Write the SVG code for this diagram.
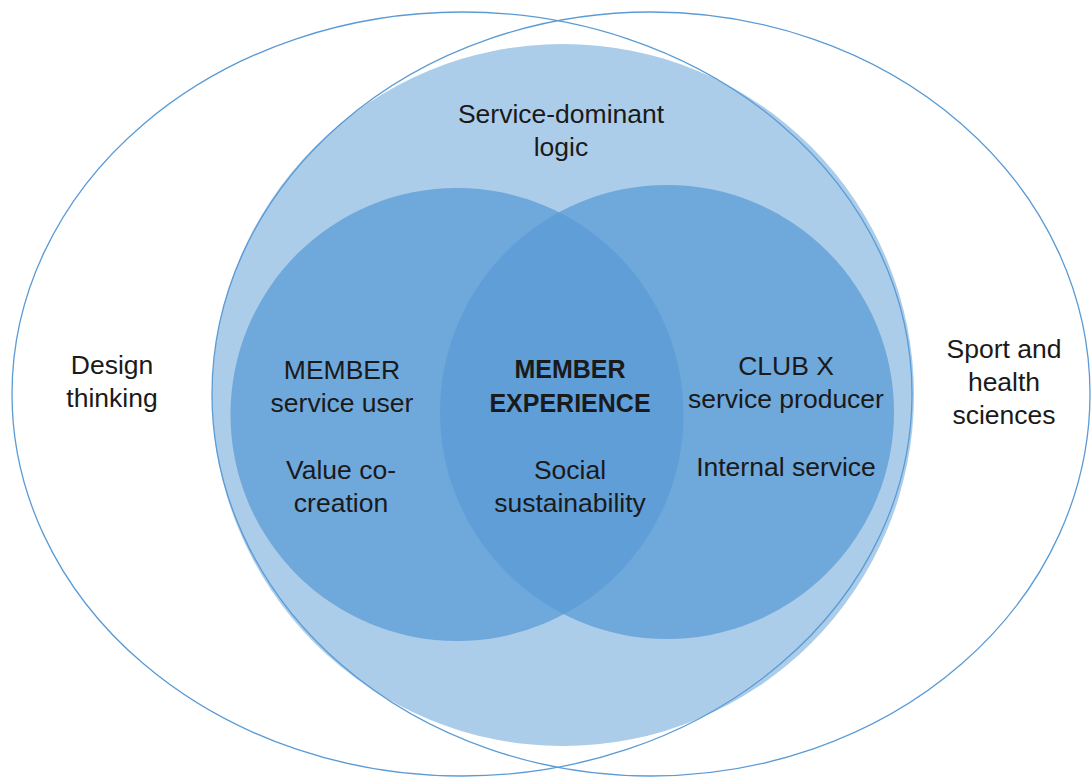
<svg xmlns="http://www.w3.org/2000/svg" width="1092" height="778" viewBox="0 0 1092 778">
  <style>
    .t { font-family: "Liberation Sans", Arial, sans-serif; font-size: 26.5px; fill: #1a1a1a; text-anchor: middle; }
    .b { font-weight: bold; font-size: 25px; }
    .outline { fill: none; stroke: #5b9bd5; stroke-width: 1.3; }
    .inner { fill: #5b9bd5; fill-opacity: 0.75; }
  </style>
  <rect width="1092" height="778" fill="#ffffff"/>
  <g id="service-dominant-logic">
    <circle cx="563" cy="395" r="351" fill="#abcde9"/>
    <text class="t" x="561" y="123">Service-dominant</text>
    <text class="t" x="561" y="156">logic</text>
  </g>
  <g id="design-thinking">
    <ellipse class="outline" cx="462" cy="394" rx="450" ry="382"/>
    <text class="t" x="112" y="374">Design</text>
    <text class="t" x="112" y="407">thinking</text>
  </g>
  <g id="sport-health">
    <ellipse class="outline" cx="651" cy="394" rx="439" ry="382"/>
    <text class="t" x="1004" y="358">Sport and</text>
    <text class="t" x="1004" y="391">health</text>
    <text class="t" x="1004" y="424">sciences</text>
  </g>
  <g id="member-service-user">
    <circle class="inner" cx="457" cy="414.5" r="226.5"/>
  </g>
  <g id="club-x">
    <circle class="inner" cx="667" cy="412" r="227"/>
  </g>
  <g id="labels-member">
    <text class="t" x="342" y="379">MEMBER</text>
    <text class="t" x="342" y="412">service user</text>
    <text class="t" x="341" y="479">Value co-</text>
    <text class="t" x="341" y="512">creation</text>
  </g>
  <g id="member-experience">
    <text class="t b" x="570" y="378">MEMBER</text>
    <text class="t b" x="570" y="412">EXPERIENCE</text>
    <text class="t" x="570" y="479">Social</text>
    <text class="t" x="570" y="512">sustainability</text>
  </g>
  <g id="labels-club">
    <text class="t" x="786" y="375">CLUB X</text>
    <text class="t" x="786" y="408">service producer</text>
    <text class="t" x="786" y="476">Internal service</text>
  </g>
  <g id="connectors"></g>
</svg>
